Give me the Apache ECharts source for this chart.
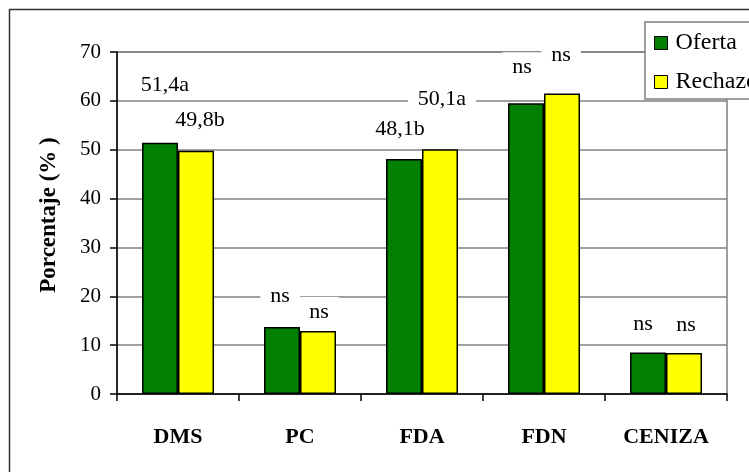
<!DOCTYPE html>
<html>
<head>
<meta charset="utf-8">
<script src="https://cdn.jsdelivr.net/npm/echarts@6/dist/echarts.min.js"></script>
<style>
  html, body { margin: 0; padding: 0; background: #fff; }
  #chart { width: 749px; height: 472px; }
</style>
</head>
<body>
<div id="chart"></div>
<script>
// Composición de la oferta y del rechazo (%)
const categories = ['DMS', 'PC', 'FDA', 'FDN', 'CENIZA'];
const seriesNames = ['Oferta', 'Rechazo'];
const oferta = [51.4, 13.7, 48.1, 59.5, 8.5];
const rechazo = [49.8, 12.9, 50.1, 61.5, 8.4];
const ofertaLabels = ['51,4a', 'ns', '48,1b', 'ns', 'ns'];
const rechazoLabels = ['49,8b', 'ns', '50,1a', 'ns', 'ns'];
const yTicks = [0, 10, 20, 30, 40, 50, 60, 70];

// label placement nudges (px) relative to the top of each bar
const ofertaNudge = [[5, -43], [-2, -16], [-4, -15], [-4, -21], [-5, -13]];
const rechazoNudge = [[4, -15], [1, -4], [2, -35], [-1, -23], [2, -13]];

const FONT = "'Liberation Serif', 'Times New Roman', serif";

function buildData(values, texts, nudges) {
  return values.map((v, i) => ({
    value: v,
    label: { formatter: texts[i], offset: nudges[i] }
  }));
}

const labelStyle = {
  show: true,
  position: 'top',
  distance: 0,
  fontFamily: FONT,
  fontSize: 22,
  color: '#000',
  backgroundColor: '#fff',
  padding: [4, 10],
  lineHeight: 22
};

const chart = echarts.init(document.getElementById('chart'), null, { renderer: 'canvas' });
chart.setOption({
  animation: false,
  backgroundColor: '#fff',
  textStyle: { fontFamily: FONT },
  graphic: [{
    type: 'rect',
    shape: { x: 9.5, y: 9.5, width: 900, height: 600 },
    style: { fill: 'none', stroke: '#333', lineWidth: 1.5 },
    silent: true,
    z: -1
  }],
  grid: {
    left: 117, right: 22, top: 52, bottom: 78,
    show: true,
    borderColor: '#808080',
    borderWidth: 1.5
  },
  legend: {
    orient: 'vertical',
    left: 645, top: 22,
    padding: [9, 12, 5, 9],
    itemWidth: 13, itemHeight: 13,
    itemGap: 15,
    backgroundColor: '#fff',
    borderColor: '#808080',
    borderWidth: 1.5,
    icon: 'rect',
    itemStyle: { borderColor: '#000', borderWidth: 1 },
    textStyle: { fontFamily: FONT, fontSize: 24, color: '#000', lineHeight: 24, padding: [0, 0, 0, 3] },
    data: seriesNames
  },
  xAxis: {
    type: 'category',
    data: categories,
    axisLine: { lineStyle: { color: '#000', width: 1.5 } },
    axisTick: { show: true, length: 7, alignWithLabel: false, lineStyle: { color: '#000', width: 1.5 } },
    axisLabel: { fontFamily: FONT, fontSize: 22, fontWeight: 'bold', color: '#000', margin: 32 },
    splitLine: { show: false }
  },
  yAxis: {
    type: 'value',
    min: yTicks[0],
    max: yTicks[yTicks.length - 1],
    interval: yTicks[1] - yTicks[0],
    name: 'Porcentaje (% )',
    nameLocation: 'middle',
    nameGap: 56,
    nameRotate: 90,
    nameTextStyle: { fontFamily: FONT, fontSize: 23, fontWeight: 'bold', color: '#000', padding: [0, 0, 0, 16] },
    axisLine: { show: true, lineStyle: { color: '#000', width: 1.5 } },
    axisTick: { show: true, length: 7, lineStyle: { color: '#000', width: 1.5 } },
    axisLabel: { fontFamily: FONT, fontSize: 21, color: '#000', margin: 16 },
    splitLine: { show: true, lineStyle: { color: '#808080', width: 1.5 } }
  },
  series: [
    {
      name: seriesNames[0],
      type: 'bar',
      barWidth: 36,
      barGap: '0%',
      itemStyle: { color: '#007F00', borderColor: '#000', borderWidth: 1.5 },
      label: labelStyle,
      data: buildData(oferta, ofertaLabels, ofertaNudge)
    },
    {
      name: seriesNames[1],
      type: 'bar',
      barWidth: 36,
      barGap: '0%',
      itemStyle: { color: '#FFFF00', borderColor: '#000', borderWidth: 1.5 },
      label: labelStyle,
      data: buildData(rechazo, rechazoLabels, rechazoNudge)
    }
  ]
});
</script>
</body>
</html>
